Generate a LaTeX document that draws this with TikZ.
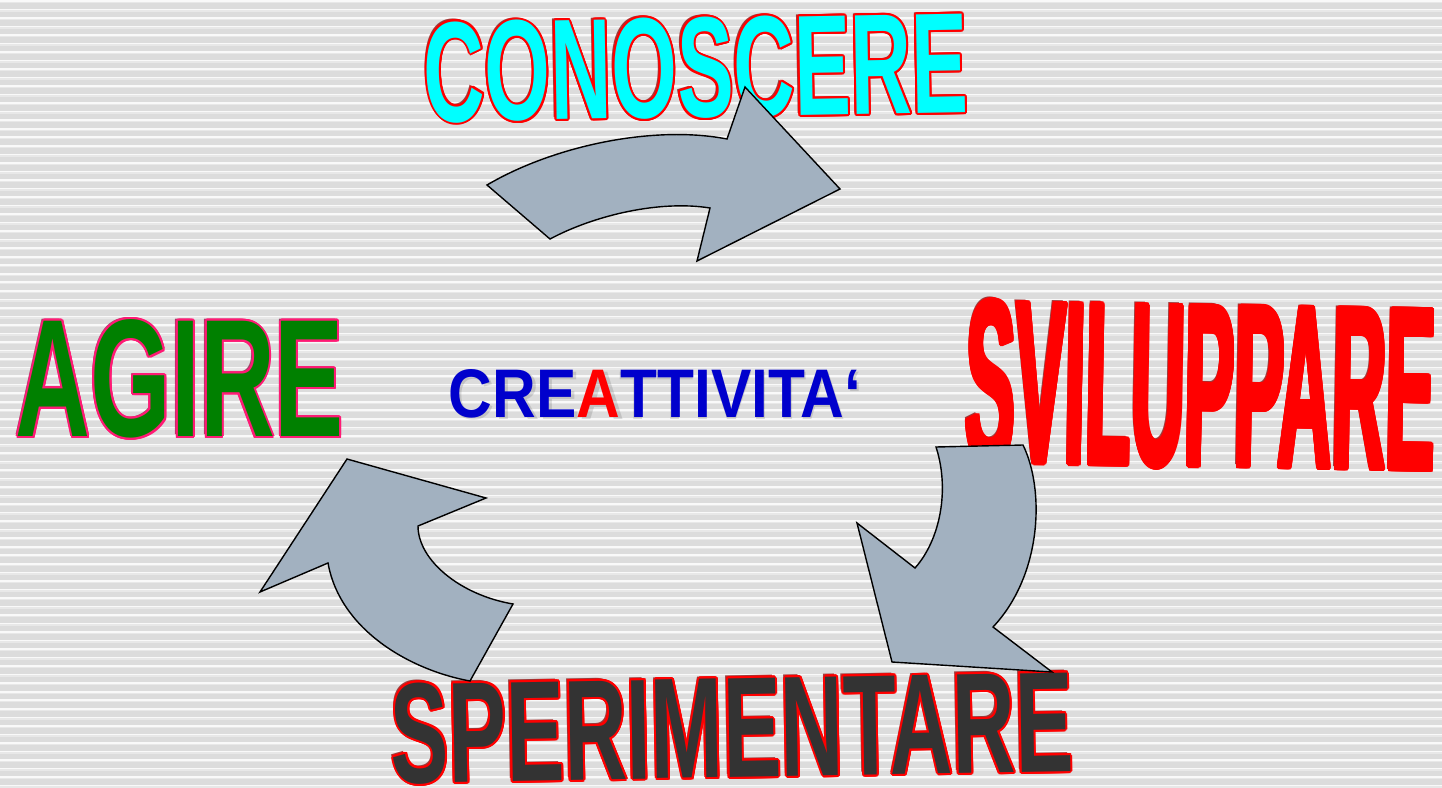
\documentclass[tikz,border=0pt]{standalone}
\usepackage{fontspec}
\setmainfont{Liberation Sans}
\usetikzlibrary{calc}
\definecolor{bgc}{HTML}{DCDCDC}
\definecolor{bandc}{HTML}{E8E8E8}
\definecolor{arrowc}{HTML}{A2B1C0}
\definecolor{cyanc}{HTML}{00FFFF}
\definecolor{redc}{HTML}{FF0000}
\definecolor{greenc}{HTML}{008000}
\definecolor{pinkc}{HTML}{FF1A75}
\definecolor{darkc}{HTML}{333333}
\definecolor{bluec}{HTML}{0000CC}
\tikzset{
  wa/.style={inner sep=0pt, outer sep=0pt, font=\bfseries\fontsize{40}{40}\selectfont},
  arrowshape/.style={fill=arrowc, draw=black, line width=1.4pt, line join=miter}
}
% name, x, y, width, height, fill, outline, text, rotation
\newcommand{\wordart}[9]{%
  \node[wa, text=#7!55!black, opacity=0.75, rotate=#9] at (#2-2.5,#3-2.5) {\resizebox{#4pt}{#5pt}{#8}};
  \foreach \ang in {0,22.5,...,337.5}{%
    \node[wa, text=#7, rotate=#9] at ($(#2,#3)+(\ang:2)$) {\resizebox{#4pt}{#5pt}{#8}};
  }
  \node[wa, text=#6, rotate=#9] (#1) at (#2,#3) {\resizebox{#4pt}{#5pt}{#8}};
}
\begin{document}
\begin{tikzpicture}[x=1pt,y=-1pt]
\useasboundingbox (0,0) rectangle (1442,787);
\fill[bgc] (0,0) rectangle (1442,787);
\foreach \i in {0,...,92}{
  \fill[bandc] (0,\i*8.53+1.6) rectangle (1442,\i*8.53+3.0);
  \fill[white,opacity=.85] (0,\i*8.53) rectangle (1442,\i*8.53+1.6);
}
% words
\wordart{conoscere}{696}{68}{544}{100}{cyanc}{redc}{CONOSCERE}{1}
\wordart{sviluppare}{1201}{386}{470}{163}{redc}{redc}{SVILUPPARE}{-1}
\wordart{agire}{180}{379}{328}{117}{greenc}{pinkc}{AGIRE}{0}
\wordart{sperimentare}{732}{728}{682}{100}{darkc}{redc}{SPERIMENTARE}{1}
% centre word
\node[wa, text=black, opacity=0.12] at (657,396) {\resizebox{412pt}{48pt}{CREATTIVITA‘}};
\node[wa, text=bluec] (creativita) at (655,394) {\resizebox{412pt}{48pt}{CRE\textcolor{redc}{A}TTIVITA‘}};
% arrows
\draw[arrowshape] (487,185) .. controls (555,145) and (655,125) .. (727,139)
  -- (745,87) -- (840,189) -- (697,261) -- (710,208)
  .. controls (660,200) and (595,215) .. (550,239) -- cycle;
\draw[arrowshape] (936,447) -- (1023,445) .. controls (1045,490) and (1042,575) .. (993,627)
  -- (1052,672) -- (892,662) -- (857,523) -- (915,568)
  .. controls (940,540) and (950,490) .. (936,447) -- cycle;
\draw[arrowshape] (470,681) -- (513,604) .. controls (460,595) and (418,560) .. (418,526)
  -- (486,498) -- (347,459) -- (260,592) -- (328,563)
  .. controls (340,630) and (410,670) .. (470,681) -- cycle;
\end{tikzpicture}
\end{document}
